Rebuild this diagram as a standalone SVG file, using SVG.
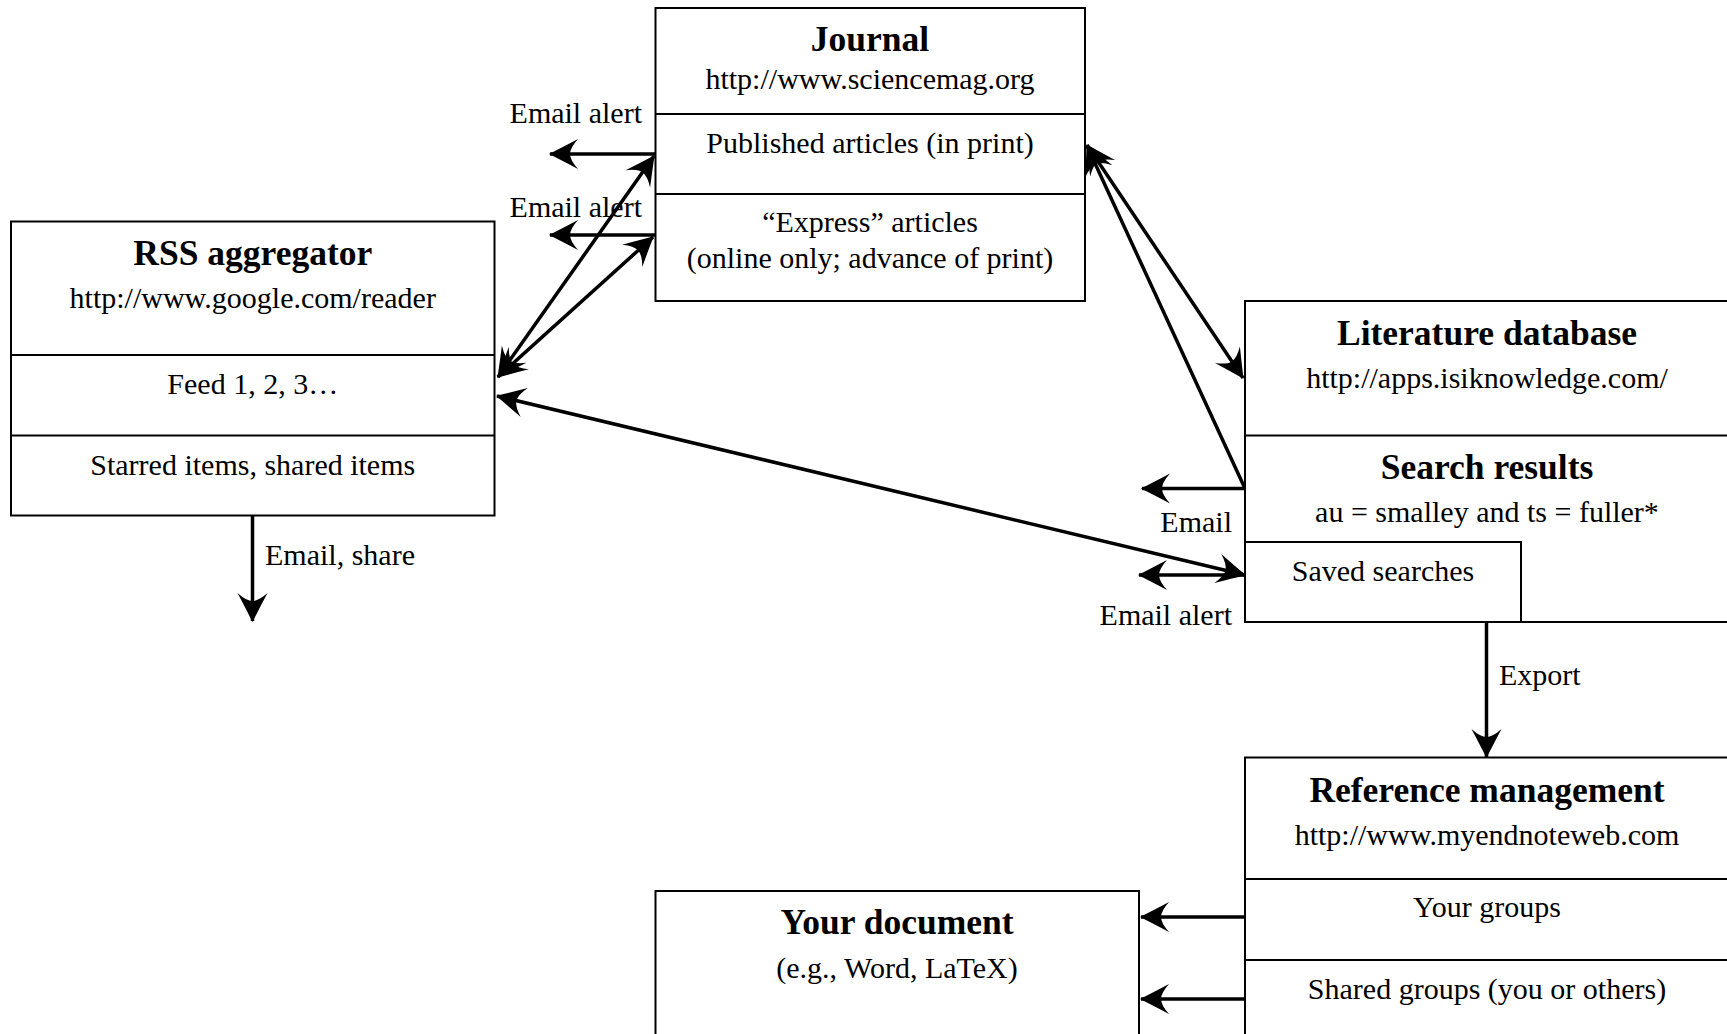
<svg xmlns="http://www.w3.org/2000/svg" width="1727" height="1034" viewBox="0 0 1727 1034">
<style>
  .box { fill: #fff; stroke: #000; stroke-width: 2; }
  .div { stroke: #000; stroke-width: 2; fill: none; }
  .t { font-family: "Liberation Serif", "Times New Roman", serif; font-size: 30px; fill: #000; }
  .title { font-family: "Liberation Serif", "Times New Roman", serif; font-size: 35.5px; font-weight: bold; fill: #000; }
  .c { text-anchor: middle; }
  .e { text-anchor: end; }
  .conn { stroke: #000; stroke-width: 3.5; fill: none; }
  .one { marker-end: url(#ah); }
  .two { marker-start: url(#ah); marker-end: url(#ah); }
</style>
<defs>
  <marker id="ah" viewBox="-30 -16 32 32" refX="0" refY="0" markerWidth="32" markerHeight="32" markerUnits="userSpaceOnUse" orient="auto-start-reverse">
    <path d="M1,0 Q-12,-6.5 -28,-15 Q-20,-6 -20,0 Q-20,6 -28,15 Q-12,6.5 1,0 Z" fill="#000"/>
  </marker>
</defs>
<rect width="1727" height="1034" fill="#fff"/>

<g id="connectors">
  <line class="conn one" x1="655.5" y1="154" x2="550" y2="154"/>
  <line class="conn one" x1="655.5" y1="235" x2="550" y2="235"/>
  <line class="conn two" x1="498" y1="377" x2="654" y2="156"/>
  <line class="conn two" x1="498" y1="377" x2="653" y2="237"/>
  <line class="conn two" x1="1245" y1="575" x2="497" y2="396"/>
  <line class="conn one" x1="1245" y1="575" x2="1139" y2="575"/>
  <line class="conn one" x1="1245" y1="488.5" x2="1142" y2="488.5"/>
  <line class="conn two" x1="1087" y1="145" x2="1243" y2="378"/>
  <line class="conn one" x1="1245" y1="488.5" x2="1087" y2="146"/>
  <line class="conn one" x1="252.5" y1="515.5" x2="252.5" y2="621"/>
  <line class="conn one" x1="1486.5" y1="622" x2="1486.5" y2="757"/>
  <line class="conn one" x1="1245" y1="917" x2="1141" y2="917"/>
  <line class="conn one" x1="1245" y1="999" x2="1141" y2="999"/>
  <text class="t e" x="642" y="123">Email alert</text>
  <text class="t e" x="642" y="217">Email alert</text>
  <text class="t" x="265" y="565">Email, share</text>
  <text class="t e" x="1232" y="532">Email</text>
  <text class="t e" x="1232" y="625">Email alert</text>
  <text class="t" x="1499" y="685">Export</text>
</g>

<g id="rss">
  <rect class="box" x="11" y="221.5" width="483.5" height="294"/>
  <line class="div" x1="11" y1="355" x2="494.5" y2="355"/>
  <line class="div" x1="11" y1="435.5" x2="494.5" y2="435.5"/>
  <text class="title c" x="252.75" y="265">RSS aggregator</text>
  <text class="t c" x="252.75" y="308">http://www.google.com/reader</text>
  <text class="t c" x="252.75" y="394">Feed 1, 2, 3…</text>
  <text class="t c" x="252.75" y="475">Starred items, shared items</text>
</g>

<g id="journal">
  <rect class="box" x="655.5" y="8" width="429.5" height="293"/>
  <line class="div" x1="655.5" y1="114" x2="1085" y2="114"/>
  <line class="div" x1="655.5" y1="194" x2="1085" y2="194"/>
  <text class="title c" x="870" y="51">Journal</text>
  <text class="t c" x="870" y="89">http://www.sciencemag.org</text>
  <text class="t c" x="870" y="153">Published articles (in print)</text>
  <text class="t c" x="870" y="232">“Express” articles</text>
  <text class="t c" x="870" y="268">(online only; advance of print)</text>
</g>

<g id="literature-database">
  <rect class="box" x="1245" y="301" width="490" height="321"/>
  <line class="div" x1="1245" y1="435.5" x2="1735" y2="435.5"/>
  <text class="title c" x="1487" y="345">Literature database</text>
  <text class="t c" x="1487" y="388">http://apps.isiknowledge.com/</text>
  <text class="title c" x="1487" y="479">Search results</text>
  <text class="t c" x="1487" y="522">au = smalley and ts = fuller*</text>
</g>

<g id="saved-searches">
  <rect class="box" x="1245" y="542" width="276" height="80"/>
  <text class="t c" x="1383" y="581">Saved searches</text>
</g>

<g id="reference-management">
  <rect class="box" x="1245" y="757.5" width="490" height="290"/>
  <line class="div" x1="1245" y1="879" x2="1735" y2="879"/>
  <line class="div" x1="1245" y1="960" x2="1735" y2="960"/>
  <text class="title c" x="1487" y="802">Reference management</text>
  <text class="t c" x="1487" y="845">http://www.myendnoteweb.com</text>
  <text class="t c" x="1487" y="917">Your groups</text>
  <text class="t c" x="1487" y="999">Shared groups (you or others)</text>
</g>

<g id="your-document">
  <rect class="box" x="655.5" y="891" width="483.5" height="160"/>
  <text class="title c" x="897" y="934">Your document</text>
  <text class="t c" x="897" y="978">(e.g., Word, LaTeX)</text>
</g>
</svg>
